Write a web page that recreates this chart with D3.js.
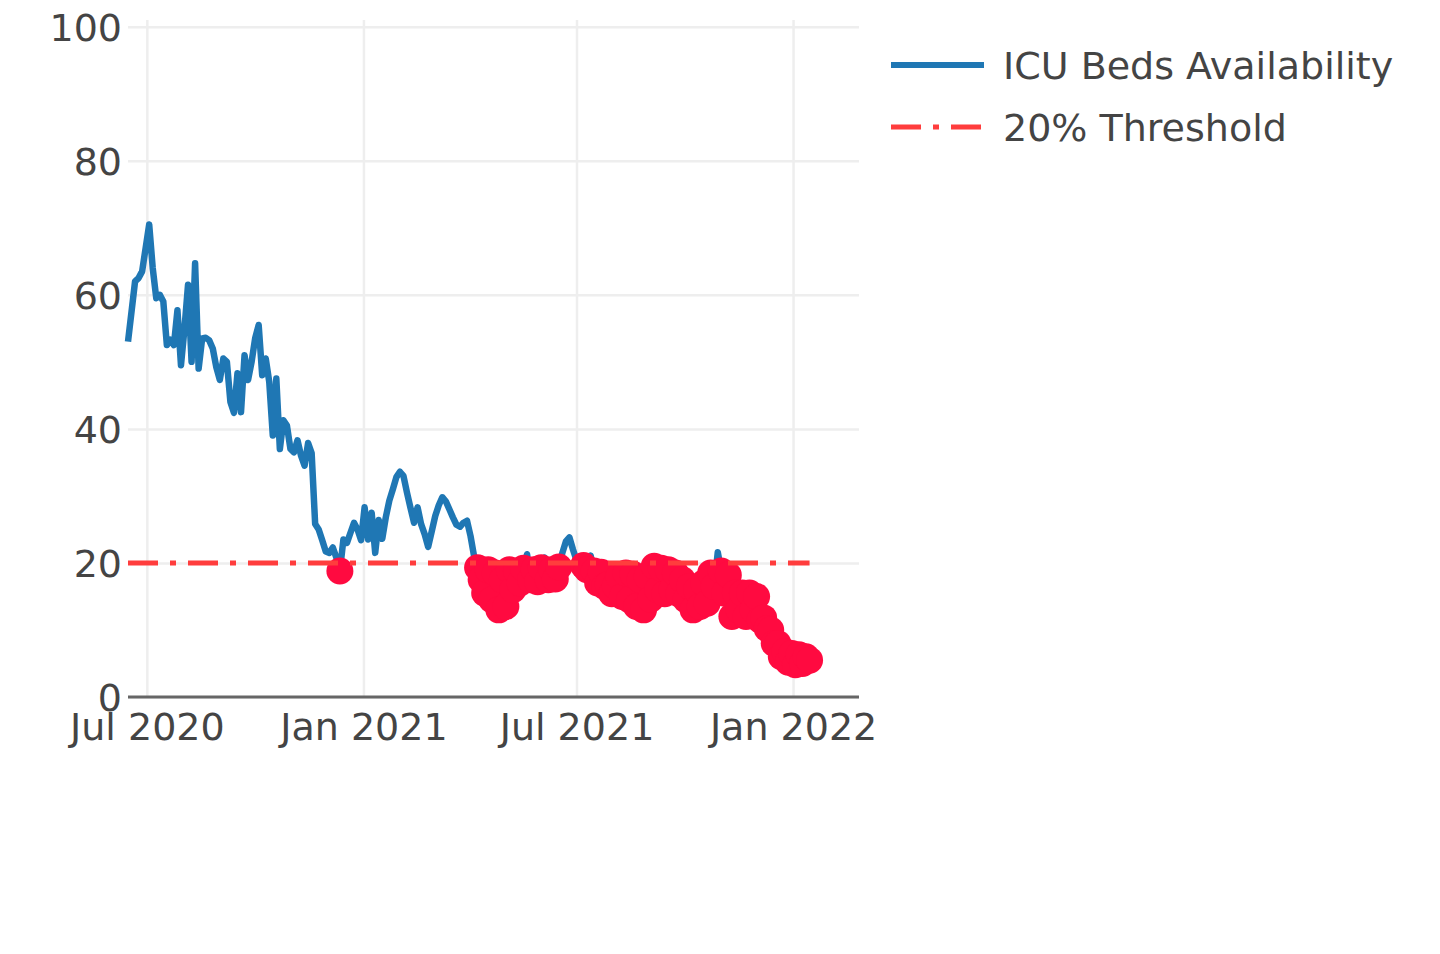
<!DOCTYPE html>
<html>
<head>
<meta charset="utf-8">
<script src="https://cdn.jsdelivr.net/npm/d3@7"></script>
<style>
  html, body { margin: 0; padding: 0; background: #fff; }
  svg { display: block; }
  text { font-family: "DejaVu Sans", Verdana, sans-serif; fill: #444; }
</style>
</head>
<body>
<svg width="1440" height="954"></svg>
<script>
// ICU bed availability (%), read every third day starting 15 Jun 2020
const startDay = "2020-06-15";
const stepDays = 3;
const icuBeds = [
  53, 57.5, 62, 62.5, 63.5, 67, 70.5, 64, 59.5, 60,
  59, 52.5, 53.3, 52.5, 57.7, 49.5, 55, 61.5, 50, 64.7,
  49, 53.5, 53.6, 53.2, 52, 49.2, 47.3, 50.5, 50, 44,
  42.4, 48.3, 42.5, 51, 47.3, 50, 53.5, 55.5, 48, 50.5,
  47, 39, 47.5, 37, 41.3, 40.5, 37, 36.5, 38.3, 36,
  34.5, 37.9, 36.4, 25.8, 25, 23.4, 21.7, 21.5, 22.3, 20.8,
  18.8, 23.5, 23, 24.5, 26, 25, 23.4, 28.3, 23.5, 27.5,
  21.5, 26.4, 23.6, 26.8, 29.3, 31, 32.8, 33.6, 33, 30.5,
  28.2, 26, 28.3, 25.8, 24.3, 22.4, 24.7, 27, 28.6, 29.8,
  29.2, 28, 26.8, 25.7, 25.4, 26, 26.3, 24, 21, 19.3,
  17.5, 15.5, 19, 14.5, 18.5, 13, 17.5, 13.5, 19, 16,
  18.8, 17, 19.2, 21.3, 17.5, 19, 17.2, 19.3, 20.8, 17.5,
  19, 17.6, 19.4, 21.5, 23.2, 23.8, 22, 20.4, 20.3, 19.6,
  19, 21.1, 18.8, 17, 18.6, 16.5, 16.8, 15.4, 16.6, 18,
  15, 18.5, 14.5, 18.3, 13.5, 17.5, 13, 18, 14.6, 19.5,
  16, 19.2, 15.4, 19, 16, 18.5, 15.4, 17.5, 14.5, 16.5,
  13, 16, 13.5, 17, 14, 18.5, 16.5, 21.6, 18.8, 15.5,
  18.2, 12, 15.5, 13, 15.5, 12, 15.5, 13, 15, 11.5,
  11.8, 10.2, 10, 8, 8, 6, 6.8, 5.2, 6.5, 4.8,
  6.3, 5, 6, 5.5
];
const threshold = 20;

const xDomain = ["2020-06-15", "2022-02-26"];
const yDomain = [0, 101];
const xTicks = ["2020-07-01", "2021-01-01", "2021-07-01", "2022-01-01"];
const xTickLabels = ["Jul 2020", "Jan 2021", "Jul 2021", "Jan 2022"];
const yTicks = [0, 20, 40, 60, 80, 100];
const legendLabels = ["ICU Beds Availability", "20% Threshold"];

const parse = d3.timeParse("%Y-%m-%d");
const t0 = parse(startDay);
const data = icuBeds.map((v, i) => ({ date: d3.timeDay.offset(t0, i * stepDays), value: v }));

const svg = d3.select("svg");
const plot = { left: 128, right: 859, top: 20, bottom: 697 };

const x = d3.scaleTime().domain(xDomain.map(parse)).range([plot.left, plot.right]);
const y = d3.scaleLinear().domain(yDomain).range([plot.bottom, plot.top]);

const fontSize = 38;

// vertical grid + date labels
const gx = svg.append("g")
  .attr("transform", `translate(0,${plot.bottom})`)
  .call(d3.axisBottom(x)
    .tickValues(xTicks.map(parse))
    .tickFormat((d, i) => xTickLabels[i])
    .tickSize(-(plot.bottom - plot.top)));
gx.select(".domain").remove();
gx.selectAll(".tick line").attr("stroke", "#eeeeee").attr("stroke-width", 2.5);
gx.selectAll(".tick text")
  .attr("y", 43).attr("dy", null)
  .attr("font-size", fontSize).attr("fill", "#444")
  .style("font-family", '"DejaVu Sans", Verdana, sans-serif');

// horizontal grid + value labels
const gy = svg.append("g")
  .attr("transform", `translate(${plot.left},0)`)
  .call(d3.axisLeft(y)
    .tickValues(yTicks)
    .tickSize(-(plot.right - plot.left))
    .tickPadding(6));
gy.select(".domain").remove();
gy.selectAll(".tick line").attr("stroke", "#eeeeee").attr("stroke-width", 2.5);
gy.selectAll(".tick text")
  .attr("dy", "0.35em")
  .attr("font-size", fontSize).attr("fill", "#444")
  .style("font-family", '"DejaVu Sans", Verdana, sans-serif');

// zero line
svg.append("line")
  .attr("x1", plot.left).attr("x2", plot.right)
  .attr("y1", y(0)).attr("y2", y(0))
  .attr("stroke", "#666").attr("stroke-width", 3);

// availability line
const line = d3.line().x(d => x(d.date)).y(d => y(d.value));
svg.append("path")
  .datum(data)
  .attr("d", line)
  .attr("fill", "none")
  .attr("stroke", "#1f77b4")
  .attr("stroke-width", 6.5)
  .attr("stroke-linejoin", "round");

// days under the threshold
svg.append("g").selectAll("circle")
  .data(data.filter(d => d.value < threshold))
  .join("circle")
  .attr("cx", d => x(d.date))
  .attr("cy", d => y(d.value))
  .attr("r", 13.5)
  .attr("fill", "#ff0a40");

// 20% threshold
const dash = "30,12,6,12";
svg.append("path")
  .datum([data[0].date, data[data.length - 1].date])
  .attr("d", d3.line().x(d => x(d)).y(() => y(threshold)))
  .attr("fill", "none")
  .attr("stroke", "#ff3d3d")
  .attr("stroke-width", 5)
  .attr("stroke-dasharray", dash);

// legend
const legend = svg.append("g").attr("transform", "translate(890,0)");
const rows = [
  { label: legendLabels[0], cy: 65, color: "#1f77b4", width: 6, dash: null },
  { label: legendLabels[1], cy: 127, color: "#ff3d3d", width: 5, dash: dash }
];
const item = legend.selectAll("g").data(rows).join("g")
  .attr("transform", d => `translate(0,${d.cy})`);
item.append("line")
  .attr("x1", 1).attr("x2", 94)
  .attr("stroke", d => d.color)
  .attr("stroke-width", d => d.width)
  .attr("stroke-dasharray", d => d.dash);
item.append("text")
  .attr("x", 113).attr("y", 14)
  .attr("font-size", fontSize)
  .text(d => d.label);
</script>
</body>
</html>
